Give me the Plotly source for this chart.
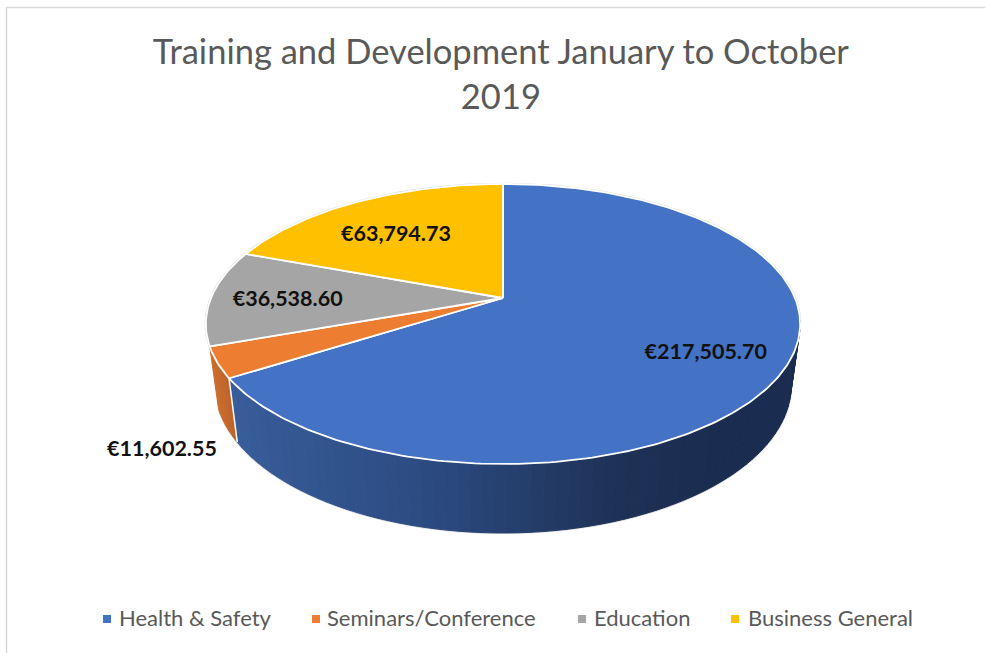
import math
import plotly.graph_objects as go

# ---- data ----
categories = ["Health & Safety", "Seminars/Conference", "Education", "Business General"]
values = [217505.70, 11602.55, 36538.60, 63794.73]
title_text = "Training and Development January to October<br>2019"

# ---- style ----
top_colors = ["#4472C4", "#ED7D31", "#A5A5A5", "#FFC000"]
label_radius = [0.74, 1.175, 0.738, 0.711]
label_drop = [4, 76, 3.5, 9]
legend_x = [107, 316, 582, 735]
legend_text_x = [119, 327, 594, 748]
legend_y = 619
FONT = "Lato"

# Perspective view of the pie, expressed in the axis units of the figure
APEX_X, APEX_Y = 503, 298
RX, RY, TILT = 292, 135.2, 0.1857
BASE_SX, BASE_SY, BASE_DROP = 0.97, 1.058, 59.3


def project(theta_deg, r=1.0):
    t = math.radians(theta_deg)
    d = 1 + TILT * r * math.cos(t)
    return APEX_X + RX * r * math.sin(t) / d, APEX_Y - RY * r * math.cos(t) / d


def project_base(theta_deg):
    x, y = project(theta_deg)
    return APEX_X + BASE_SX * (x - APEX_X), APEX_Y + BASE_SY * (y - APEX_Y) + BASE_DROP


def frange(a, b, step=1.0):
    n = max(2, int(abs(b - a) / step) + 1)
    return [a + (b - a) * i / (n - 1) for i in range(n)]


def mix(stops, x):
    if x <= stops[0][0]:
        c = stops[0][1]
        return f"rgb({c[0]},{c[1]},{c[2]})"
    for (x0, c0), (x1, c1) in zip(stops, stops[1:]):
        if x <= x1:
            f = (x - x0) / (x1 - x0)
            rgb = [round(c0[i] + (c1[i] - c0[i]) * f) for i in range(3)]
            return f"rgb({rgb[0]},{rgb[1]},{rgb[2]})"
    c = stops[-1][1]
    return f"rgb({c[0]},{c[1]},{c[2]})"


blue_wall = [(230, (56, 93, 154)), (420, (44, 76, 130)), (620, (30, 49, 86)), (720, (26, 45, 80))]
orange_wall = [(210, (208, 112, 47)), (236, (186, 96, 42))]

total = sum(values)
angles = [0.0]
for v in values:
    angles.append(angles[-1] + v / total * 360)

fig = go.Figure()

# silhouette, behind everything
sil_t = frange(99, angles[2], 2)
top_t = frange(angles[2], 460, 2)
sx_top = [project(t)[0] for t in top_t]
sy_top = [project(t)[1] for t in top_t]
sx_base = [project_base(t)[0] for t in sil_t]
sy_base = [project_base(t)[1] for t in sil_t]
fig.add_trace(go.Scatter(x=sx_top + sx_base, y=sy_top + sy_base, mode="lines",
                         line=dict(color="#D9D9D9", width=2.5),
                         showlegend=False, hoverinfo="skip"))


def wall(t0, t1, stops):
    ts = frange(t0, t1, 2)
    for a, b in zip(ts, ts[1:]):
        p = [project(a), project(b), project_base(b), project_base(a), project(a)]
        xm = sum(q[0] for q in p[:4]) / 4
        col = mix(stops, xm)
        fig.add_trace(go.Scatter(x=[q[0] for q in p], y=[q[1] for q in p], mode="lines",
                                 fill="toself", fillcolor=col, line=dict(color=col, width=1),
                                 showlegend=False, hoverinfo="skip"))


# walls of the front slices
wall(99, angles[1], blue_wall)
wall(angles[1], angles[2], orange_wall)
sep_top, sep_base = project(angles[1]), project_base(angles[1])
fig.add_trace(go.Scatter(x=[sep_top[0], sep_base[0]], y=[sep_top[1], sep_base[1]], mode="lines",
                         line=dict(color="white", width=1.5), showlegend=False, hoverinfo="skip"))

# top faces
for i, name in enumerate(categories):
    ts = frange(angles[i], angles[i + 1], 1)
    xs = [APEX_X] + [project(t)[0] for t in ts] + [APEX_X]
    ys = [APEX_Y] + [project(t)[1] for t in ts] + [APEX_Y]
    fig.add_trace(go.Scatter(x=xs, y=ys, mode="lines", fill="toself",
                             fillcolor=top_colors[i], line=dict(color="white", width=1.8),
                             name=name, showlegend=False, hoverinfo="name"))

# value labels
lx, ly = [], []
for i in range(len(values)):
    x, y = project((angles[i] + angles[i + 1]) / 2, label_radius[i])
    lx.append(x)
    ly.append(y + label_drop[i])
fig.add_trace(go.Scatter(x=lx, y=ly, mode="text", text=[f"€{v:,.2f}" for v in values],
                         textposition="middle center",
                         textfont=dict(family=FONT, size=21.5, color="#111111", weight="bold"),
                         showlegend=False, hoverinfo="skip"))

# key below the pie
fig.add_trace(go.Scatter(x=legend_x, y=[legend_y] * 4, mode="markers",
                         marker=dict(symbol="square", size=8, color=top_colors),
                         showlegend=False, hoverinfo="skip"))
fig.add_trace(go.Scatter(x=legend_text_x, y=[legend_y + 1] * 4, mode="text", text=categories,
                         textposition="middle right",
                         textfont=dict(family=FONT, size=22, color="#595959"),
                         showlegend=False, hoverinfo="skip"))

fig.update_layout(
    width=986, height=653, margin=dict(l=0, r=0, t=0, b=0, autoexpand=False),
    paper_bgcolor="white", plot_bgcolor="white",
    title=dict(text=title_text, x=0.508, xanchor="center", y=0.902, yanchor="top",
               font=dict(family=FONT, size=34.5, color="#595959")),
    xaxis=dict(range=[0, 986], visible=False, fixedrange=True),
    yaxis=dict(range=[653, 0], visible=False, fixedrange=True),
    shapes=[
        dict(type="line", x0=6, x1=985, y0=7.5, y1=7.5, line=dict(color="#D9D9D9", width=1.5)),
        dict(type="line", x0=6.5, x1=6.5, y0=7, y1=653, line=dict(color="#D9D9D9", width=1.5)),
    ],
)
fig.write_html("out.html", config={"displayModeBar": False},
               post_script="document.body.style.margin='0';document.documentElement.style.overflow='hidden';")
